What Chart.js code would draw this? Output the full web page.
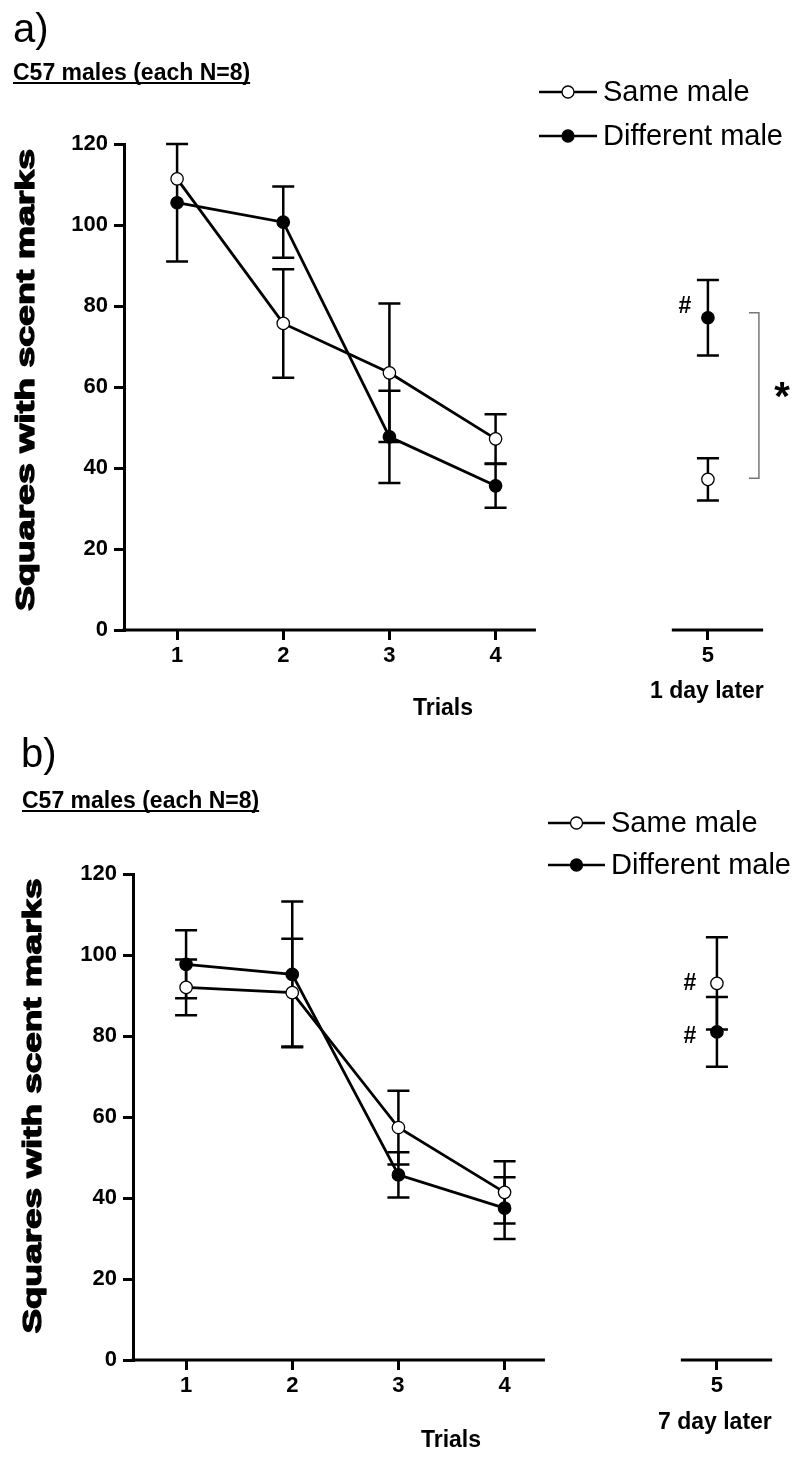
<!DOCTYPE html>
<html><head><meta charset="utf-8">
<script src="https://cdn.jsdelivr.net/npm/chart.js@4.4.1/dist/chart.umd.min.js"></script>
<style>
html,body{margin:0;padding:0;background:#fff;}
#wrap{position:relative;width:800px;height:1460px;background:#fff;}
canvas{position:absolute;left:0;}
</style></head><body>
<div id="wrap">
<canvas id="ca" width="800" height="730" style="top:0px"></canvas>
<canvas id="cb" width="800" height="730" style="top:730px"></canvas>
</div>
<script>
// ---------- data ----------
const trialLabels = ['1', '2', '3', '4', '', '5'];
const yTicks = [0, 20, 40, 60, 80, 100, 120];
const seriesNames = ['Same male', 'Different male'];

// panel a (1 day later)
const sameA    = [111.4, 75.7, 63.5, 47.2, null, 37.2];
const sameAErr = [null, 13.4, 17.1, 6.1, null, 5.2];
const diffA    = [105.5, 100.7, 47.7, 35.6, null, 77.1];
const diffAErr = [14.5, 8.8, 11.4, 5.4, null, 9.3];

// panel b (7 day later)
const sameB    = [92.0, 90.7, 57.4, 41.4, null, 93.0];
const sameBErr = [6.9, 13.3, 9.1, 7.7, null, 11.4];
const diffB    = [97.7, 95.2, 45.7, 37.5, null, 81.0];
const diffBErr = [8.4, 18.0, 5.6, 7.6, null, 8.6];

const FONT = '"Liberation Sans", Arial, Helvetica, sans-serif';

function makePanel(id, opt) {
  const ctxEl = document.getElementById(id);

  const errorBars = {
    id: 'errorBars',
    beforeDatasetsDraw(chart) {
      const ctx = chart.ctx;
      const ys = chart.scales.y;
      ctx.save();
      ctx.strokeStyle = '#000';
      ctx.lineWidth = 2.5;
      chart.data.datasets.forEach((ds, i) => {
        const meta = chart.getDatasetMeta(i);
        ds.err.forEach((e, j) => {
          const v = ds.data[j];
          if (e == null || v == null) return;
          const x = meta.data[j].x;
          const yt = ys.getPixelForValue(v + e);
          const yb = ys.getPixelForValue(v - e);
          ctx.beginPath();
          ctx.moveTo(x, yt); ctx.lineTo(x, yb);
          ctx.moveTo(x - 11, yt); ctx.lineTo(x + 11, yt);
          ctx.moveTo(x - 11, yb); ctx.lineTo(x + 11, yb);
          ctx.stroke();
        });
      });
      ctx.restore();
    }
  };

  const decor = {
    id: 'decor',
    afterDraw(chart) {
      const ctx = chart.ctx;
      const xs = chart.scales.x, ys = chart.scales.y;
      const area = chart.chartArea;
      const step = xs.getPixelForValue(1) - xs.getPixelForValue(0);
      ctx.save();
      // x axis segments
      ctx.strokeStyle = '#000';
      ctx.lineWidth = 3;
      ctx.beginPath();
      ctx.moveTo(area.left - 1.5, area.bottom);
      ctx.lineTo(xs.getPixelForValue(3) + 0.38 * step, area.bottom);
      ctx.moveTo(xs.getPixelForValue(5) - 0.34 * step, area.bottom);
      ctx.lineTo(xs.getPixelForValue(5) + 0.52 * step, area.bottom);
      ctx.stroke();

      ctx.fillStyle = '#000';
      // panel letter
      ctx.font = '40px ' + FONT;
      ctx.textAlign = 'left';
      ctx.textBaseline = 'alphabetic';
      ctx.fillText(opt.letter, opt.letterX, opt.letterY);
      // subtitle underlined
      ctx.font = 'bold 23px ' + FONT;
      ctx.fillText(opt.subtitle, opt.subX, opt.subY);
      const w = ctx.measureText(opt.subtitle).width;
      ctx.fillRect(opt.subX, opt.subY + 2, w, 2);

      // legend
      const leg = [{ y: opt.legY[0], filled: false }, { y: opt.legY[1], filled: true }];
      leg.forEach((it, k) => {
        ctx.strokeStyle = '#000';
        ctx.lineWidth = 2.5;
        ctx.beginPath();
        ctx.moveTo(opt.legX1, it.y); ctx.lineTo(opt.legX2, it.y);
        ctx.stroke();
        ctx.beginPath();
        ctx.arc((opt.legX1 + opt.legX2) / 2, it.y, 6, 0, Math.PI * 2);
        ctx.fillStyle = it.filled ? '#000' : '#fff';
        ctx.fill();
        ctx.lineWidth = 1.3;
        ctx.stroke();
        ctx.fillStyle = '#000';
        ctx.font = '29px ' + FONT;
        ctx.textAlign = 'left';
        ctx.textBaseline = 'middle';
        ctx.fillText(seriesNames[k], opt.legX2 + 6, it.y + 1);
      });

      // y-axis title (stretched along its length, heavy weight)
      ctx.save();
      ctx.font = 'bold 26px ' + FONT;
      const t = 'Squares with scent marks';
      const tw = ctx.measureText(t).width;
      ctx.translate(opt.yTitleX, opt.yTitleY);
      ctx.rotate(-Math.PI / 2);
      ctx.scale(opt.yTitleLen / tw, 1);
      ctx.textAlign = 'center';
      ctx.textBaseline = 'middle';
      ctx.fillText(t, 0, 0);
      ctx.strokeStyle = '#000';
      ctx.lineWidth = 1.3;
      ctx.lineJoin = 'round';
      ctx.strokeText(t, 0, 0);
      ctx.restore();

      // x titles
      ctx.font = 'bold 23px ' + FONT;
      ctx.textAlign = 'center';
      ctx.textBaseline = 'middle';
      ctx.fillText('Trials', opt.trialsX, opt.trialsY);
      ctx.fillText(opt.dayLabel, xs.getPixelForValue(5) + opt.dayDx, opt.dayY);

      // '#' annotations
      ctx.font = 'bold 23px ' + FONT;
      opt.hashes.forEach(h => {
        const meta = chart.getDatasetMeta(h.ds);
        const p = meta.data[h.idx];
        ctx.fillText('#', p.x + h.dx, p.y + h.dy);
      });

      // significance bracket
      if (opt.bracket) {
        const pTop = chart.getDatasetMeta(1).data[5];
        const pBot = chart.getDatasetMeta(0).data[5];
        const bx = pTop.x + 51;
        const yT = pTop.y - 5, yB = pBot.y - 1;
        ctx.strokeStyle = '#777';
        ctx.lineWidth = 1.5;
        ctx.beginPath();
        ctx.moveTo(bx - 10, yT); ctx.lineTo(bx, yT); ctx.lineTo(bx, yB); ctx.lineTo(bx - 10, yB);
        ctx.stroke();
        ctx.fillStyle = '#000';
        ctx.font = 'bold 40px ' + FONT;
        ctx.textAlign = 'center';
        ctx.textBaseline = 'alphabetic';
        ctx.fillText('*', bx + 23, (yT + yB) / 2 + 14);
      }
      ctx.restore();
    }
  };

  return new Chart(ctxEl, {
    type: 'line',
    data: {
      labels: trialLabels,
      datasets: [
        {
          label: seriesNames[0], data: opt.same, err: opt.sameErr,
          borderColor: '#000', borderWidth: 2.8,
          pointRadius: 6.2, pointBorderWidth: 1.3,
          pointBackgroundColor: '#fff', pointBorderColor: '#000',
          spanGaps: false, tension: 0, order: 1
        },
        {
          label: seriesNames[1], data: opt.diff, err: opt.diffErr,
          borderColor: '#000', borderWidth: 2.8,
          pointRadius: 6.2, pointBorderWidth: 1.3,
          pointBackgroundColor: '#000', pointBorderColor: '#000',
          spanGaps: false, tension: 0, order: 2
        }
      ]
    },
    options: {
      responsive: false,
      animation: false,
      events: [],
      clip: false,
      layout: { padding: { top: 144, right: opt.padRight, bottom: 0, left: 0 } },
      plugins: { legend: { display: false }, tooltip: { enabled: false } },
      scales: {
        x: {
          type: 'category',
          offset: true,
          afterFit(s) { s.height = 100; },
          grid: {
            offset: false,
            drawOnChartArea: false,
            drawTicks: true,
            tickLength: 10,
            lineWidth: 3,
            color: c => (trialLabels[c.index] === '' ? 'rgba(0,0,0,0)' : '#000')
          },
          border: { display: false },
          ticks: {
            color: '#000', padding: 3, maxRotation: 0, autoSkip: false,
            font: { family: FONT, size: 22, weight: 'bold' }
          }
        },
        y: {
          min: yTicks[0], max: yTicks[yTicks.length - 1],
          afterFit(s) { s.width = opt.yAxisWidth; },
          afterBuildTicks(s) { s.ticks = yTicks.map(v => ({ value: v })); },
          grid: { drawOnChartArea: false, drawTicks: true, tickLength: 10, lineWidth: 3, color: '#000' },
          border: { display: true, width: 3, color: '#000' },
          ticks: {
            color: '#000', padding: 6,
            font: { family: FONT, size: 22, weight: 'bold' }
          }
        }
      }
    },
    plugins: [errorBars, decor]
  });
}

makePanel('ca', {
  same: sameA, sameErr: sameAErr, diff: diffA, diffErr: diffAErr,
  yAxisWidth: 124, padRight: 39,
  letter: 'a)', letterX: 13, letterY: 42,
  subtitle: 'C57 males (each N=8)', subX: 13, subY: 80,
  legX1: 539, legX2: 597, legY: [92, 136],
  yTitleX: 27, yTitleY: 380, yTitleLen: 462,
  trialsX: 443, trialsY: 709,
  dayLabel: '1 day later', dayDx: -1, dayY: 692,
  hashes: [{ ds: 1, idx: 5, dx: -23, dy: -11 }],
  bracket: true
});

makePanel('cb', {
  same: sameB, sameErr: sameBErr, diff: diffB, diffErr: diffBErr,
  yAxisWidth: 133, padRight: 30,
  letter: 'b)', letterX: 21, letterY: 37,
  subtitle: 'C57 males (each N=8)', subX: 22, subY: 78,
  legX1: 548, legX2: 605, legY: [93, 135],
  yTitleX: 34, yTitleY: 376, yTitleLen: 455,
  trialsX: 451, trialsY: 711,
  dayLabel: '7 day later', dayDx: -2, dayY: 693,
  hashes: [{ ds: 0, idx: 5, dx: -27, dy: 0 }, { ds: 1, idx: 5, dx: -27, dy: 5 }],
  bracket: false
});
</script>
</body></html>
